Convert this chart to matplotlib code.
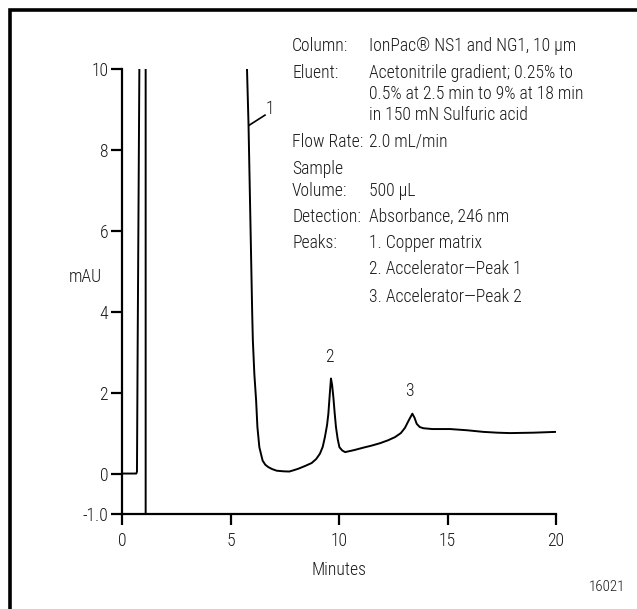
import numpy as np
import matplotlib
matplotlib.use("Agg")
import matplotlib.pyplot as plt
from matplotlib.patches import Rectangle
from matplotlib import font_manager

_names = {f.name for f in font_manager.fontManager.ttflist}
_pref = ["Roboto Condensed", "Pragati Narrow", "Archivo Narrow",
         "PT Sans Narrow", "Fira Sans Condensed", "Liberation Sans"]
FONT = next((n for n in _pref if n in _names), "DejaVu Sans")
plt.rcParams['font.family'] = [FONT, 'DejaVu Sans']
plt.rcParams['font.weight'] = 300
plt.rcParams['axes.labelweight'] = 300
FS = 12.7
TC = "#1a1a1a"

# ---- data ----
time_min = [0.0, 0.66, 0.69, 0.72, 0.80, 0.82, 1.00, 1.09, 1.09,
            np.nan,
            5.74, 5.76, 5.83, 6.00, 6.03, 6.10, 6.18, 6.24, 6.33, 6.48, 6.60,
            6.74, 6.92, 7.13, 7.45, 7.71, 7.90, 8.13, 8.45, 8.74, 8.95, 9.12,
            9.25, 9.35, 9.45, 9.51, 9.58, 9.63, 9.68, 9.74, 9.80, 9.86, 9.94,
            10.02, 10.15, 10.28, 10.70, 11.12, 11.50, 11.89, 12.25, 12.58,
            12.85, 13.04, 13.20, 13.38, 13.48, 13.58, 13.72, 13.89, 14.30,
            15.12, 15.90, 16.65, 17.30, 17.88, 18.95, 20.0]
signal_mau = [0.0, 0.0, 0.05, 3.0, 10.0, 11.0, 11.0, 11.0, -1.5,
              np.nan,
              11.0, 10.0, 8.64, 3.96, 3.29, 2.45, 1.81, 1.15, 0.65, 0.32, 0.22,
              0.16, 0.11, 0.07, 0.055, 0.05, 0.08, 0.12, 0.19, 0.26, 0.36, 0.49,
              0.66, 0.90, 1.20, 1.48, 2.00, 2.35, 2.20, 1.89, 1.50, 1.15, 0.85,
              0.65, 0.57, 0.53, 0.58, 0.64, 0.69, 0.75, 0.82, 0.90,
              1.00, 1.13, 1.30, 1.48, 1.38, 1.23, 1.15, 1.12, 1.10,
              1.10, 1.07, 1.03, 1.01, 1.00, 1.01, 1.03]

peak_labels = ["1", "2", "3"]
peak_label_x = [6.82, 9.56, 13.23]
peak_label_y = [9.0, 2.88, 2.05]

x_ticks = [0, 5, 10, 15, 20]
y_ticks = [-1.0, 0, 2, 4, 6, 8, 10]
y_ticklabels = ["-1.0", "0", "2", "4", "6", "8", "10"]

info_labels = ["Column:", "Eluent:", "", "", "Flow Rate:", "Sample", "Volume:",
               "Detection:", "Peaks:", "", ""]
info_values = ["IonPac\u00ae NS1 and NG1, 10 \u00b5m",
               "Acetonitrile gradient; 0.25% to",
               "0.5% at 2.5 min to 9% at 18 min",
               "in 150 mN Sulfuric acid",
               "2.0 mL/min",
               "",
               "500 \u00b5L",
               "Absorbance, 246 nm",
               "1. Copper matrix",
               "2. Accelerator\u2014Peak 1",
               "3. Accelerator\u2014Peak 2"]
info_y_px = [46, 73, 94, 115, 142, 169, 191, 217, 243, 269, 297]

W, H = 637, 609
fig = plt.figure(figsize=(W / 100, H / 100), dpi=100)
fig.patch.set_facecolor("white")

# outer frame (extends past right/bottom edges as in the reference)
fig.patches.append(Rectangle((9.5 / W, -0.05), 1.2, 1 - 9.5 / H + 0.05,
                             transform=fig.transFigure, fill=False,
                             edgecolor="black", linewidth=2.6, zorder=0))

ax = fig.add_axes([122 / W, 1 - 514 / H, (556 - 122) / W, (514 - 69) / H])
ax.plot(time_min, signal_mau, color="black", linewidth=1.4,
        solid_joinstyle="round", clip_on=True)
ax.set_xlim(0, 20)
ax.set_ylim(-1.0, 10)

for s in ["top", "right"]:
    ax.spines[s].set_visible(False)
for s in ["left", "bottom"]:
    ax.spines[s].set_linewidth(1.6)
ax.spines["left"].set_bounds(-1.0, 10)

ax.set_xticks(x_ticks)
ax.set_yticks(y_ticks)
ax.set_yticklabels(y_ticklabels)
ax.tick_params(axis="both", direction="out", length=8, width=1.6,
               labelsize=FS, color="black", labelcolor=TC)
ax.tick_params(axis="x", pad=5)
ax.tick_params(axis="y", pad=2)

ax.set_xlabel("Minutes", fontsize=FS, labelpad=8, color=TC, fontweight=300)
fig.text(85 / W, 1 - 277 / H, "mAU", fontsize=FS, ha="center",
         va="center", color=TC)

# peak labels
for lab, px, py in zip(peak_labels, peak_label_x, peak_label_y):
    ax.text(px, py, lab, fontsize=FS, ha="center", va="center", color=TC)
ax.plot([5.86, 6.59], [8.61, 8.86], color="black", linewidth=1.2)

# condition block
for lab, val, ypx in zip(info_labels, info_values, info_y_px):
    if lab:
        fig.text(292 / W, 1 - ypx / H, lab, fontsize=FS, ha="left",
                 va="center", color=TC)
    if val:
        fig.text(369 / W, 1 - ypx / H, val, fontsize=FS, ha="left",
                 va="center", color=TC)

fig.text(625 / W, 1 - 587 / H, "16021", fontsize=FS - 2, ha="right",
         va="center", color=TC)

fig.savefig("out.png", dpi=100)
